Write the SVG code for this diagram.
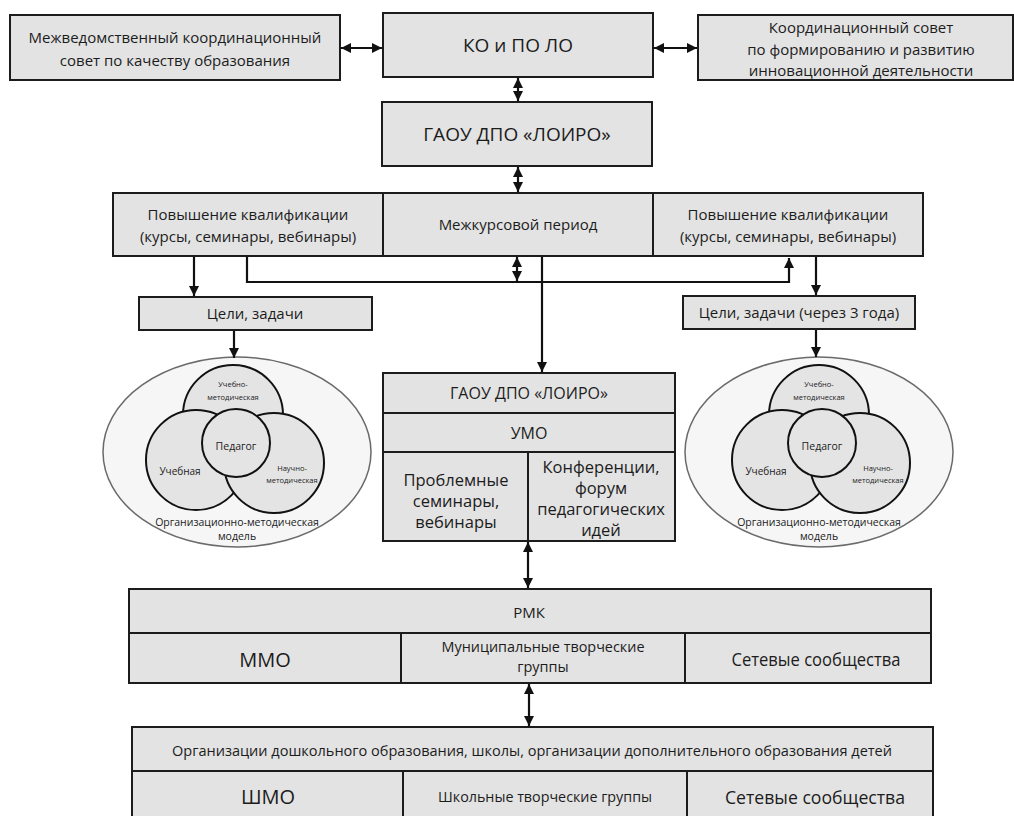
<svg xmlns="http://www.w3.org/2000/svg" width="1014" height="816" viewBox="0 0 1014 816">
<style>
.box{fill:#e3e3e3;stroke:#1c1c1c;stroke-width:2}
.ln{fill:none;stroke:#1c1c1c;stroke-width:2}
.t{font-family:"Open Sans","Liberation Sans",sans-serif;fill:#1c1c1c;text-anchor:middle}
.c{stroke:#111;stroke-width:2;fill:#e4e4e4}
.ell{fill:#f6f6f6;stroke:#6a6a6a;stroke-width:1.5}
.con{fill:none;stroke:#111;stroke-width:2.2}
</style>
<defs>
<marker id="ah" viewBox="0 0 10 10" refX="10" refY="5" markerWidth="10" markerHeight="10" markerUnits="userSpaceOnUse" orient="auto-start-reverse">
<path d="M0,0 L10,5 L0,10 z" fill="#111"/>
</marker>
<g id="venn">
<circle class="c" cx="0" cy="0" r="50"/>
<circle class="c" cx="-37" cy="45" r="50"/>
<circle class="c" cx="41" cy="48" r="50"/>
<circle class="c" cx="3" cy="28" r="34" fill="#d2d2d2"/>
<text class="t" x="0" y="-28" font-size="7.5">Учебно-</text>
<text class="t" x="0" y="-15" font-size="7.5">методическая</text>
<text class="t" x="3" y="35" font-size="10.5">Педагог</text>
<text class="t" x="-53" y="60" font-size="10">Учебная</text>
<text class="t" x="59" y="56" font-size="7.5">Научно-</text>
<text class="t" x="59" y="68" font-size="7.5">методическая</text>
</g>
</defs>

<g id="n-mks">
<rect class="box" x="10" y="15" width="330" height="65"/>
<text class="t" x="175" y="43" font-size="15">Межведомственный координационный</text>
<text class="t" x="175" y="66" font-size="15">совет по качеству образования</text>
</g>
<g id="n-ko">
<rect class="box" x="383" y="13" width="270" height="64"/>
<text class="t" x="518" y="52" font-size="19">КО и ПО ЛО</text>
</g>
<g id="n-ks">
<rect class="box" x="698" y="15" width="315" height="65"/>
<text class="t" x="861" y="33" font-size="15">Координационный совет</text>
<text class="t" x="861" y="55" font-size="15">по формированию и развитию</text>
<text class="t" x="861" y="76" font-size="15">инновационной деятельности</text>
</g>
<g id="n-gaou">
<rect class="box" x="382" y="102" width="270" height="64"/>
<text class="t" x="517" y="141" font-size="19">ГАОУ ДПО «ЛОИРО»</text>
</g>
<g id="n-pk-left">
<rect class="box" x="113" y="193" width="270" height="63"/>
<text class="t" x="248" y="220" font-size="15">Повышение квалификации</text>
<text class="t" x="248" y="242" font-size="15">(курсы, семинары, вебинары)</text>
</g>
<g id="n-mkp">
<rect class="box" x="383" y="193" width="270" height="63"/>
<text class="t" x="518" y="230" font-size="15">Межкурсовой период</text>
</g>
<g id="n-pk-right">
<rect class="box" x="653" y="193" width="270" height="63"/>
<text class="t" x="788" y="220" font-size="15">Повышение квалификации</text>
<text class="t" x="788" y="242" font-size="15">(курсы, семинары, вебинары)</text>
</g>
<g id="n-goals-left">
<rect class="box" x="139" y="297" width="233" height="33"/>
<text class="t" x="255" y="319" font-size="15">Цели, задачи</text>
</g>
<g id="n-goals-right">
<rect class="box" x="683" y="296" width="232" height="33"/>
<text class="t" x="799" y="318" font-size="15">Цели, задачи (через 3 года)</text>
</g>
<g id="n-model-left">
<ellipse class="ell" cx="237" cy="452" rx="134" ry="95"/>
<use href="#venn" x="233" y="415"/>
<text class="t" x="237" y="526" font-size="10.5">Организационно-методическая</text>
<text class="t" x="237" y="540" font-size="10.5">модель</text>
</g>
<g id="n-model-right">
<ellipse class="ell" cx="819" cy="452" rx="134" ry="95"/>
<use href="#venn" x="819" y="415"/>
<text class="t" x="819" y="526" font-size="10.5">Организационно-методическая</text>
<text class="t" x="819" y="540" font-size="10.5">модель</text>
</g>
<g id="n-loiro-umo">
<rect class="box" x="383" y="373" width="292" height="168"/>
<path class="ln" d="M383,413 H675 M383,452 H675 M528,452 V541"/>
<text class="t" x="529" y="399" font-size="16">ГАОУ ДПО «ЛОИРО»</text>
<text class="t" x="529" y="439" font-size="16">УМО</text>
<text class="t" x="456" y="486" font-size="16.5">Проблемные</text>
<text class="t" x="456" y="507" font-size="16.5">семинары,</text>
<text class="t" x="456" y="528" font-size="16.5">вебинары</text>
<text class="t" x="601" y="473" font-size="16.5">Конференции,</text>
<text class="t" x="601" y="494" font-size="16.5">форум</text>
<text class="t" x="601" y="515" font-size="16.5">педагогических</text>
<text class="t" x="601" y="536" font-size="16.5">идей</text>
</g>
<g id="n-rmk">
<rect class="box" x="129" y="589" width="802" height="94"/>
<path class="ln" d="M129,633 H931 M401,633 V683 M685,633 V683"/>
<text class="t" x="529" y="618" font-size="15">РМК</text>
<text class="t" x="265" y="667" font-size="20">ММО</text>
<text class="t" x="543" y="652" font-size="14.5" textLength="203" lengthAdjust="spacingAndGlyphs">Муниципальные творческие</text>
<text class="t" x="543" y="672" font-size="14.5">группы</text>
<text class="t" x="816" y="666" font-size="19" textLength="169" lengthAdjust="spacingAndGlyphs">Сетевые сообщества</text>
</g>
<g id="n-org">
<rect class="box" x="132" y="727" width="801" height="100"/>
<path class="ln" d="M132,771 H933 M403,771 V827 M687,771 V827"/>
<text class="t" x="532" y="756" font-size="14.5" textLength="720" lengthAdjust="spacingAndGlyphs">Организации дошкольного образования, школы, организации дополнительного образования детей</text>
<text class="t" x="268" y="804" font-size="20">ШМО</text>
<text class="t" x="545" y="802" font-size="14.5" textLength="214" lengthAdjust="spacingAndGlyphs">Школьные творческие группы</text>
<text class="t" x="815" y="804" font-size="19" textLength="180" lengthAdjust="spacingAndGlyphs">Сетевые сообщества</text>
</g>

<g id="connectors">
<line class="con" x1="341" y1="48" x2="382" y2="48" marker-start="url(#ah)" marker-end="url(#ah)"/>
<line class="con" x1="654" y1="48" x2="697" y2="48" marker-start="url(#ah)" marker-end="url(#ah)"/>
<line class="con" x1="518" y1="78" x2="518" y2="101" marker-start="url(#ah)" marker-end="url(#ah)"/>
<line class="con" x1="518" y1="167" x2="518" y2="192" marker-start="url(#ah)" marker-end="url(#ah)"/>
<line class="con" x1="194" y1="257" x2="194" y2="296" marker-end="url(#ah)"/>
<path class="con" d="M247,257 V282 H789 V258" marker-end="url(#ah)"/>
<line class="con" x1="517" y1="257" x2="517" y2="281" marker-start="url(#ah)" marker-end="url(#ah)"/>
<line class="con" x1="542" y1="257" x2="542" y2="372" marker-end="url(#ah)"/>
<line class="con" x1="816" y1="257" x2="816" y2="295" marker-end="url(#ah)"/>
<line class="con" x1="234" y1="331" x2="234" y2="358" marker-end="url(#ah)"/>
<line class="con" x1="816" y1="330" x2="816" y2="357" marker-end="url(#ah)"/>
<line class="con" x1="528" y1="542" x2="528" y2="588" marker-start="url(#ah)" marker-end="url(#ah)"/>
<line class="con" x1="529" y1="684" x2="529" y2="726" marker-start="url(#ah)" marker-end="url(#ah)"/>
</g>
</svg>
